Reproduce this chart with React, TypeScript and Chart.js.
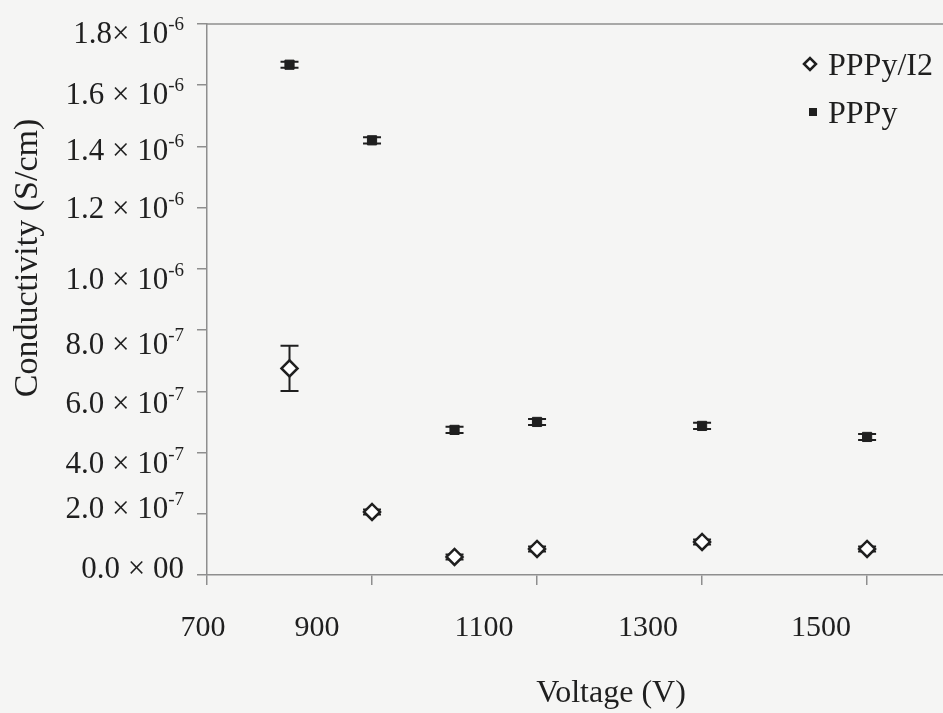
import React, { useEffect, useRef } from 'react';
import { Chart, registerables } from 'chart.js';

Chart.register(...registerables);

// ---- data ----
const voltages = [800, 900, 1000, 1100, 1300, 1500];
const ppyI2 = [0.675e-6, 0.206e-6, 0.059e-6, 0.085e-6, 0.108e-6, 0.085e-6];
const ppyI2Err = [0.074e-6, 0.008e-6, 0.008e-6, 0.008e-6, 0.008e-6, 0.008e-6];
const ppy = [1.667e-6, 1.42e-6, 0.474e-6, 0.5e-6, 0.487e-6, 0.451e-6];
const ppyErr = [0.01e-6, 0.01e-6, 0.01e-6, 0.01e-6, 0.01e-6, 0.01e-6];

const seriesNames = ['PPPy/I2', 'PPPy'];

const xTicks = [700, 900, 1100, 1300, 1500];
const xTickLabels = ['700', '900', '1100', '1300', '1500'];
const yTicks = [0, 0.2e-6, 0.4e-6, 0.6e-6, 0.8e-6, 1.0e-6, 1.2e-6, 1.4e-6, 1.6e-6, 1.8e-6];
const yTickMantissa = ['0.0 × 00', '2.0 × 10', '4.0 × 10', '6.0 × 10', '8.0 × 10', '1.0 × 10', '1.2 × 10', '1.4 × 10', '1.6 × 10', '1.8× 10'];
const yTickExponent = ['', '-7', '-7', '-7', '-7', '-6', '-6', '-6', '-6', '-6'];

const xTitle = 'Voltage (V)';
const yTitle = 'Conductivity (S/cm)';

// ---- layout / style constants ----
const W = 943;
const H = 713;
const BG = '#f5f5f4';
const AXIS = '#8e8e8e';
const INK = '#1f1f1f';
const FONT = "'Liberation Serif', 'Times New Roman', serif";
// hand-placed label nudges seen in the original figure (pixels)
const xLabelNudge = [-4, -55, -53, -54, -46];
const yLabelNudge = [-7, -6, 10, 12, 14, 10, 0, 4, 9, 9];

const decorPlugin = {
  id: 'decor',
  beforeDraw(chart: any) {
    const { ctx } = chart;
    ctx.save();
    ctx.fillStyle = BG;
    ctx.fillRect(0, 0, chart.width, chart.height);
    ctx.restore();
  },
  beforeDatasetsDraw(chart: any) {
    const { ctx } = chart;
    const xs = chart.scales.x;
    const ys = chart.scales.y;
    const sets = [
      [ppyI2, ppyI2Err],
      [ppy, ppyErr],
    ];
    ctx.save();
    ctx.strokeStyle = INK;
    ctx.lineWidth = 2;
    sets.forEach(([vals, errs]) => {
      vals.forEach((v: number, i: number) => {
        const x = xs.getPixelForValue(voltages[i]);
        const yt = ys.getPixelForValue(v + errs[i]);
        const yb = ys.getPixelForValue(v - errs[i]);
        const cap = 9;
        ctx.beginPath();
        ctx.moveTo(x, yt);
        ctx.lineTo(x, yb);
        ctx.moveTo(x - cap, yt);
        ctx.lineTo(x + cap, yt);
        ctx.moveTo(x - cap, yb);
        ctx.lineTo(x + cap, yb);
        ctx.stroke();
      });
    });
    ctx.restore();
  },
  afterDraw(chart: any) {
    const { ctx, chartArea } = chart;
    const xs = chart.scales.x;
    const ys = chart.scales.y;
    ctx.save();
    // top frame line
    ctx.strokeStyle = AXIS;
    ctx.lineWidth = 1.5;
    ctx.beginPath();
    ctx.moveTo(chartArea.left, chartArea.top);
    ctx.lineTo(chartArea.right, chartArea.top);
    ctx.stroke();

    ctx.fillStyle = INK;
    // x tick labels
    ctx.font = `30px ${FONT}`;
    ctx.textAlign = 'center';
    ctx.textBaseline = 'alphabetic';
    xTicks.forEach((v, i) => {
      const x = xs.getPixelForValue(v) + xLabelNudge[i];
      ctx.fillText(xTickLabels[i], x, chartArea.bottom + 61);
    });

    // y tick labels with superscript exponents
    const rightEdge = chartArea.left - 23;
    yTicks.forEach((v, i) => {
      const cy = ys.getPixelForValue(v) + yLabelNudge[i];
      const base = cy + 10;
      ctx.textAlign = 'right';
      let supW = 0;
      if (yTickExponent[i]) {
        ctx.font = `19px ${FONT}`;
        supW = ctx.measureText(yTickExponent[i]).width;
        ctx.fillText(yTickExponent[i], rightEdge, base - 13);
      }
      ctx.font = `31px ${FONT}`;
      ctx.fillText(yTickMantissa[i], rightEdge - supW, base);
    });

    // axis titles
    ctx.font = `32px ${FONT}`;
    ctx.textAlign = 'center';
    ctx.fillText(xTitle, 611, 702);
    ctx.save();
    ctx.translate(28, 258);
    ctx.rotate(-Math.PI / 2);
    ctx.font = `34px ${FONT}`;
    ctx.textBaseline = 'middle';
    ctx.fillText(yTitle, 0, 0);
    ctx.restore();

    // legend
    const lx = 810;
    const ly1 = 64;
    const ly2 = 112;
    ctx.lineWidth = 2.5;
    ctx.strokeStyle = INK;
    ctx.fillStyle = '#ffffff';
    ctx.beginPath();
    ctx.moveTo(lx - 6, ly1);
    ctx.lineTo(lx, ly1 - 6);
    ctx.lineTo(lx + 6, ly1);
    ctx.lineTo(lx, ly1 + 6);
    ctx.closePath();
    ctx.fill();
    ctx.stroke();
    ctx.fillStyle = INK;
    ctx.fillRect(lx - 1, ly2 - 4, 8, 8);
    ctx.font = `32px ${FONT}`;
    ctx.textAlign = 'left';
    ctx.textBaseline = 'alphabetic';
    ctx.fillText(seriesNames[0], 828, ly1 + 11);
    ctx.fillText(seriesNames[1], 828, ly2 + 11);
    ctx.restore();
  },
};

export default function App() {
  const ref = useRef<HTMLCanvasElement | null>(null);

  useEffect(() => {
    document.body.style.margin = '0';
    document.body.style.background = BG;
    const canvas = ref.current;
    if (!canvas) return;
    const chart = new Chart(canvas, {
      type: 'scatter',
      data: {
        datasets: [
          {
            label: seriesNames[0],
            data: voltages.map((v, i) => ({ x: v, y: ppyI2[i] })),
            pointStyle: 'rectRot',
            pointRadius: 8,
            pointBackgroundColor: '#ffffff',
            pointBorderColor: INK,
            pointBorderWidth: 2.5,
            showLine: false,
          },
          {
            label: seriesNames[1],
            data: voltages.map((v, i) => ({ x: v, y: ppy[i] })),
            pointStyle: 'rect',
            pointRadius: 6.5,
            pointBackgroundColor: INK,
            pointBorderColor: INK,
            pointBorderWidth: 1,
            showLine: false,
          },
        ],
      },
      options: {
        animation: false,
        responsive: false,
        events: [],
        layout: { autoPadding: false, padding: { top: 24, right: 0, left: 0, bottom: 0 } },
        plugins: {
          legend: { display: false },
          tooltip: { enabled: false },
        },
        scales: {
          x: {
            type: 'linear',
            min: 700,
            max: 1592,
            afterBuildTicks: (s: any) => {
              s.ticks = xTicks.map((v) => ({ value: v }));
            },
            afterFit: (s: any) => {
              s.height = H - 575;
            },
            ticks: { display: false },
            grid: { drawOnChartArea: false, drawTicks: true, tickLength: 10, color: AXIS, lineWidth: 1.5 },
            border: { color: AXIS, width: 1.5 },
          },
          y: {
            type: 'linear',
            min: 0,
            max: 1.8e-6,
            afterBuildTicks: (s: any) => {
              s.ticks = yTicks.map((v) => ({ value: v }));
            },
            afterFit: (s: any) => {
              s.width = 207;
            },
            ticks: { display: false },
            grid: { drawOnChartArea: false, drawTicks: true, tickLength: 10, color: AXIS, lineWidth: 1.5 },
            border: { color: AXIS, width: 1.5 },
          },
        },
      },
      plugins: [decorPlugin],
    });
    return () => chart.destroy();
  }, []);

  return (
    <div style={{ width: W, height: H, overflow: 'hidden' }}>
      <canvas ref={ref} width={W} height={H} style={{ display: 'block' }} />
    </div>
  );
}
